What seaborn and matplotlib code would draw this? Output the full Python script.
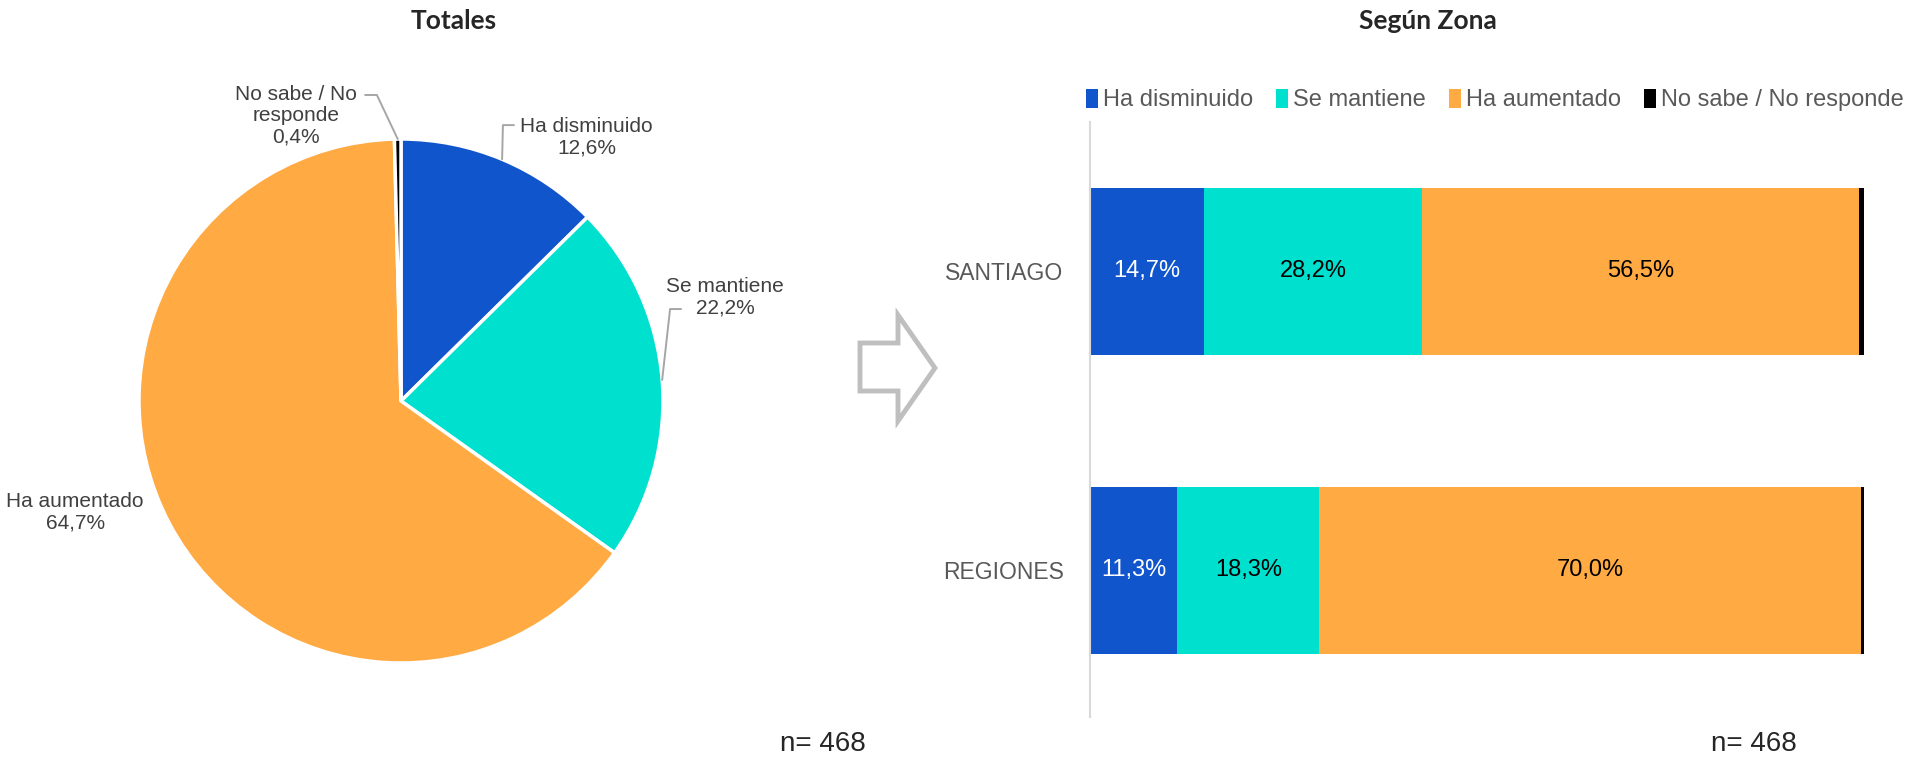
import numpy as np
import pandas as pd
import matplotlib
matplotlib.use('Agg')
import matplotlib.pyplot as plt
from matplotlib.patches import Patch, Polygon
import seaborn as sns

# datos
pie_cats = ['Ha disminuido', 'Se mantiene', 'Ha aumentado', 'No sabe / No responde']
pie_text = ['Ha disminuido', 'Se mantiene', 'Ha aumentado', 'No sabe / No\nresponde']
pie_vals = [12.6, 22.2, 64.7, 0.4]

zonas = ['SANTIAGO', 'REGIONES']
disminuido = [14.7, 11.3]
mantiene = [28.2, 18.3]
aumentado = [56.5, 70.0]
nosabe = [0.6, 0.4]

n_total = 468
n_zona = 468

colores = ['#1155CC', '#00E0CF', '#FFAA42', '#000000']
gris = '#595959'

sns.set_theme(style='white')
plt.rcParams['font.family'] = ['Liberation Sans', 'DejaVu Sans']

W, H = 1907, 760
fig = plt.figure(figsize=(W / 100, H / 100), dpi=100)

# ---- pie (Totales) ----
cx, cy, r = 401, 401, 262
ax_pie = fig.add_axes([(cx - r) / W, (H - cy - r) / H, 2 * r / W, 2 * r / H])
wedges, _ = ax_pie.pie(pie_vals, colors=colores, startangle=90, counterclock=False,
                       wedgeprops=dict(edgecolor='white', linewidth=2.5))
ax_pie.set_xlim(-1, 1)
ax_pie.set_ylim(-1, 1)
ax_pie.set_aspect('equal')
ax_pie.axis('off')

# posiciones de etiquetas (coords del pie) y codos de las lineas guia
lab_pos = [(0.708, 1.008), (1.237, 0.397), (-1.244, -0.424), (-0.40, 1.088)]
guias = [((0.431, 1.053), (0.389, 1.053)),
         ((1.069, 0.351), (1.027, 0.351)),
         None,
         ((-0.137, 1.168), (-0.092, 1.168))]

for w, txt, val, pos, g in zip(wedges, pie_text, pie_vals, lab_pos, guias):
    s = f'{txt}\n{val:.1f}%'.replace('.', ',')
    ax_pie.text(pos[0], pos[1], s, ha='center', va='center', fontsize=15,
                color='#404040', linespacing=1.15)
    if g is not None:
        ang = np.deg2rad((w.theta1 + w.theta2) / 2)
        ex, ey = np.cos(ang), np.sin(ang)
        ax_pie.plot([g[0][0], g[1][0], ex], [g[0][1], g[1][1], ey],
                    color='#A6A6A6', lw=1.4, clip_on=False)

# ---- barras apiladas (Según Zona) ----
df = pd.DataFrame({'zona': zonas, 'Ha disminuido': disminuido, 'Se mantiene': mantiene,
                   'Ha aumentado': aumentado, 'No sabe / No responde': nosabe})
cum = df[pie_cats].cumsum(axis=1)
cum['zona'] = df['zona']

ax_bar = fig.add_axes([1090 / W, 43 / H, 774 / W, 595 / H])
for cat, col in reversed(list(zip(pie_cats, colores))):
    sns.barplot(data=cum, x=cat, y='zona', orient='h', color=col, saturation=1,
                width=0.56, linewidth=0, ax=ax_bar)

for i, z in enumerate(zonas):
    for cat, col in zip(pie_cats[:3], colores[:3]):
        v = df.loc[i, cat]
        xc = cum.loc[i, cat] - v / 2
        ax_bar.text(xc, i, f'{v:.1f}%'.replace('.', ','), ha='center', va='center',
                    fontsize=17, color='white' if col == colores[0] else 'black')

ax_bar.set_xlim(0, 100)
ax_bar.set_ylim(1.49, -0.5)
ax_bar.set_xlabel('')
ax_bar.set_ylabel('')
ax_bar.set_xticks([])
for sp in ['top', 'right', 'bottom']:
    ax_bar.spines[sp].set_visible(False)
ax_bar.spines['left'].set_color('#D9D9D9')
ax_bar.spines['left'].set_linewidth(1.5)
ax_bar.tick_params(axis='y', length=0, pad=19, labelsize=16.5, labelcolor=gris)

handles = [Patch(facecolor=c, edgecolor='none', label=l) for c, l in zip(colores, pie_cats)]
fig.legend(handles=handles, loc='center left', bbox_to_anchor=(1086 / W, 1 - 100 / H),
           ncol=4, frameon=False, fontsize=17, handlelength=0.5, handleheight=0.85,
           handletextpad=0.2, columnspacing=1.0, labelcolor=gris,
           borderaxespad=0, borderpad=0)

# flecha
pts = [(860, 343), (898, 343), (898, 315), (935, 368), (898, 421), (898, 391), (860, 391)]
fig.add_artist(Polygon([(x / W, 1 - y / H) for x, y in pts], closed=True, fill=False,
                       edgecolor='#BFBFBF', lw=3.5, joinstyle='miter',
                       transform=fig.transFigure))

# titulos y n
fig.text(454 / W, 1 - 21 / H, 'Totales', ha='center', va='center', fontsize=19,
         fontweight='bold', family=['Lato', 'DejaVu Sans'])
fig.text(1428 / W, 1 - 21 / H, 'Según Zona', ha='center', va='center', fontsize=19,
         fontweight='bold', family=['Lato', 'DejaVu Sans'])
fig.text(823 / W, 1 - 744 / H, f'n= {n_total}', ha='center', va='center', fontsize=20)
fig.text(1754 / W, 1 - 744 / H, f'n= {n_zona}', ha='center', va='center', fontsize=20)

fig.savefig('out.png', dpi=100)
